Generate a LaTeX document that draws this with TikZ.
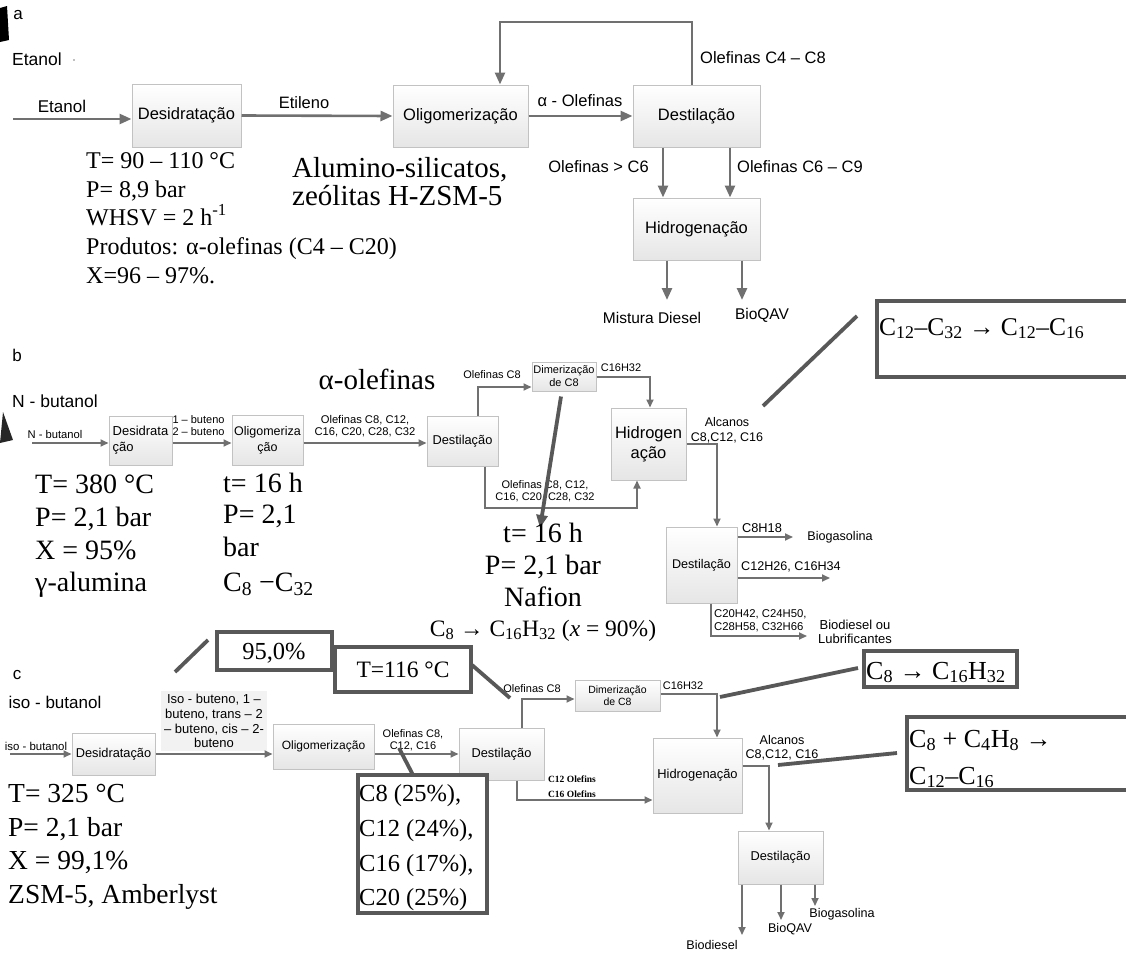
\documentclass[tikz,border=0pt]{standalone}
\usepackage{fontspec}
\setmainfont{Liberation Sans}
\newfontfamily\cam{Liberation Serif}
\newfontfamily\tnr{Liberation Serif}
\usetikzlibrary{arrows.meta}
\definecolor{ag}{HTML}{707070}
\definecolor{cg}{HTML}{585858}
\definecolor{bd}{HTML}{C2C2C2}
\newcommand\fz[2]{\fontsize{#1}{#2}\selectfont}
\newcommand\sbx[1]{\textsubscript{#1}}
\tikzset{
  bx/.style={draw=bd,line width=1pt,top color=white,bottom color=black!10,inner sep=0pt,align=center},
  lb/.style={inner sep=0pt,align=center},
  ar/.style={draw=ag,line width=2.6pt,-{Triangle[length=12pt,width=10pt]}},
  ars/.style={draw=ag,line width=1.7pt,-{Triangle[length=8pt,width=7pt]}},
  cb/.style={draw=cg,line width=3.8pt,fill=white},
  cl/.style={draw=cg,line width=3.8pt},
  dk/.style={draw=cg,line width=3.8pt,-{Triangle[length=13pt,width=11pt]}},
  sr/.style={inner sep=0pt,anchor=base west,align=left},
  sc/.style={inner sep=0pt,anchor=base,align=center},
}
\begin{document}
\begin{tikzpicture}[x=1pt,y=-1pt]
\useasboundingbox (0,0) rectangle (1126,953);
% ================= a =================
\fill[black] (0,8) -- (7,6) -- (9,40) -- (0,42) -- cycle;
\node[lb,font=\fz{17}{20}] (ta) at (18,15) {a};
\node[lb,font=\fz{17.5}{20}] (tet) at (37,59) {Etanol};
\fill[black!50] (74,60) circle (0.8);
\node[bx,font=\fz{16.5}{19},minimum width=109pt,minimum height=63pt] (ades) at (186.5,115.5) {Desidratação};
\node[bx,font=\fz{16.5}{19},minimum width=135pt,minimum height=62pt] (aoli) at (460.5,116) {Oligomerização};
\node[bx,font=\fz{16.5}{19},minimum width=127pt,minimum height=62pt] (adest) at (696.5,116) {Destilação};
\node[bx,font=\fz{16.5}{19},minimum width=127pt,minimum height=62pt] (ahid) at (696.5,229) {Hidrogenação};
\coordinate (ain) at (13,119);
\draw[ar] (ain) -- (ain -| ades.west);
\node[lb,font=\fz{17}{20}] (letanol) at (62,106) {Etanol};
\draw[ar] (ades.east) -- (aoli.west);
\node[lb,font=\fz{16.5}{19}] (letil) at (304,103) {Etileno};
\draw[ar] (aoli.east) -- (adest.west);
\node[lb,font=\fz{16.5}{19}] (lalpha) at (580,101) {α - Olefinas};
\coordinate (lp1) at (692,22);
\coordinate (lp2) at (500,22);
\draw[ar] (adest.north -| lp1) -- (lp1) -- (lp2) -- (aoli.north -| lp2);
\node[lb,anchor=west,font=\fz{16.5}{19}] (lc48) at (700,58) {Olefinas C4 – C8};
\coordinate (dd1) at (663,0);
\coordinate (dd2) at (730,0);
\draw[ar] (adest.south -| dd1) -- (ahid.north -| dd1);
\draw[ar] (adest.south -| dd2) -- (ahid.north -| dd2);
\node[lb,anchor=east,font=\fz{16.5}{19}] (lgt6) at (649,167) {Olefinas > C6};
\node[lb,anchor=west,font=\fz{16.5}{19}] (lc69) at (737,167) {Olefinas C6 – C9};
\coordinate (ao1) at (667,300);
\coordinate (ao2) at (742,300);
\draw[ar] (ahid.south -| ao1) -- (ao1);
\draw[ar] (ahid.south -| ao2) -- (ao2);
\node[lb,font=\fz{15.5}{18}] (lmd) at (652,318) {Mistura Diesel};
\node[lb,font=\fz{15.5}{18}] (lbq) at (762,315) {BioQAV};
% annotations a
\node[sr,font=\cam\fz{24}{28}] (a1) at (86,168) {T= 90 – 110 °C};
\node[sr,font=\cam\fz{24}{28}] (a2) at (86,197) {P= 8,9 bar};
\node[sr,font=\cam\fz{24}{28}] (a3) at (86,225) {WHSV = 2 h\textsuperscript{-1}};
\node[sr,font=\cam\fz{24}{28}] (a4) at (86,254) {Produtos: α-olefinas (C4 – C20)};
\node[sr,font=\cam\fz{24}{28}] (a5) at (86,283) {X=96 – 97\%.};
\node[sr,font=\cam\fz{29}{33}] (a6) at (292,177) {Alumino-silicatos,};
\node[sr,font=\cam\fz{29}{33}] (a7) at (292,205) {zeólitas H-ZSM-5};
% ================= b =================
\node[lb,font=\fz{17}{20}] (tb) at (17,355) {b};
\node[lb,font=\fz{17.5}{20}] (tnb) at (55,401) {N - butanol};
\fill[black!85] (3,412) -- (13,440) -- (0,443) -- cycle;
\node[bx,font=\fz{13}{16},minimum width=63pt,minimum height=49pt,align=left] (bdes) at (140.5,440.5) {Desidrata\\ção};
\node[bx,font=\fz{12.5}{16},minimum width=71pt,minimum height=50pt] (boli) at (267.5,440) {Oligomeriza\\ção};
\node[bx,font=\fz{12.8}{15},minimum width=71pt,minimum height=50pt] (bdest) at (462.5,441) {Destilação};
\node[bx,font=\fz{11}{13},minimum width=64pt,minimum height=29pt] (bdim) at (564,376.5) {Dimerização\\de C8};
\node[bx,font=\fz{16.5}{20},minimum width=75pt,minimum height=72pt] (bhid) at (648.5,444) {Hidrogen\\ação};
\node[bx,font=\fz{12.6}{15},minimum width=71pt,minimum height=76pt] (bdest2) at (701.5,565) {Destilação};
\coordinate (bin) at (32,443);
\draw[ars] (bin) -- (bin -| bdes.west);
\node[lb,font=\fz{11.2}{13}] (lnb) at (55,434) {N - butanol};
\draw[ars] (bdes.east |- bin) -- (boli.west |- bin);
\node[lb,align=left,font=\fz{11}{12}] (lbut) at (198.5,426) {1 – buteno\\2 – buteno};
\draw[ars] (boli.east |- bin) -- (bdest.west |- bin);
\node[lb,font=\fz{11.2}{12}] (lolb) at (365,426) {Olefinas C8, C12,\\C16, C20, C28, C32};
\coordinate (bu) at (478,387);
\draw[ars] (bdest.north -| bu) -- (bu) -- (bdim.west |- bu);
\node[lb,font=\fz{11}{13}] (lbc8) at (492,375) {Olefinas C8};
\coordinate (bc) at (650,377);
\draw[ars] (bdim.east |- bc) -- (bc) -- (bhid.north -| bc);
\node[lb,font=\fz{11}{13}] (lbc16) at (621,368) {C16H32};
\coordinate (bb1) at (485,508);
\coordinate (bb2) at (637,508);
\draw[ars] (bdest.south -| bb1) -- (bb1) -- (bb2) -- (bhid.south -| bb2);
\node[lb,font=\fz{11}{12.5}] (lbol2) at (545,491) {Olefinas C8, C12,\\C16, C20, C28, C32};
\coordinate (ba) at (717,444);
\draw[ars] (bhid.east |- ba) -- (ba) -- (bdest2.north -| ba);
\node[lb,font=\fz{12.5}{15}] (lalc) at (727,430) {Alcanos\\C8,C12, C16};
\coordinate (bo1) at (793,537);
\draw[ars] (bdest2.east |- bo1) -- (bo1);
\node[lb,font=\fz{12.8}{15}] (lc8h) at (762,528) {C8H18};
\node[lb,font=\fz{12.6}{15}] (lbg) at (840,537) {Biogasolina};
\coordinate (bo2) at (830,578);
\draw[ars] (bdest2.east |- bo2) -- (bo2);
\node[lb,anchor=west,font=\fz{12.6}{15}] (lc12h) at (741,567) {C12H26, C16H34};
\coordinate (bo3a) at (711,636);
\coordinate (bo3b) at (807,636);
\draw[ars] (bdest2.south -| bo3a) -- (bo3a) -- (bo3b);
\node[lb,anchor=west,align=left,font=\fz{11.3}{12.5}] (lc20) at (714,621) {C20H42, C24H50,\\C28H58, C32H66};
\node[lb,font=\fz{13}{14}] (lbio) at (855,632) {Biodiesel ou\\Lubrificantes};
% dark arrow
\coordinate (dkend) at (540,528);
\draw[dk] (bdim.south) ++(-3,5) -- (dkend);
% callout b
\draw[cb] (877,301) rectangle (1140,377);
\node[sr,font=\cam\fz{25.5}{29}] (bcall) at (879,335) {C\sbx{12}–C\sbx{32} → C\sbx{12}–C\sbx{16}};
\coordinate (bl1) at (857,316);
\coordinate (bl2) at (763,406);
\draw[cl] (bl1) -- (bl2);
% annotations b
\node[sc,font=\cam\fz{29}{33}] (bal) at (377,389) {α-olefinas};
\node[sr,font=\cam\fz{28}{32}] (b1) at (35,493) {T= 380 °C};
\node[sr,font=\cam\fz{28}{32}] (b2) at (35,526) {P= 2,1 bar};
\node[sr,font=\cam\fz{28}{32}] (b3) at (35,559) {X = 95\%};
\node[sr,font=\cam\fz{28}{32}] (b4) at (35,591) {γ-alumina};
\node[sr,font=\cam\fz{28}{32}] (b5) at (223,492) {t= 16 h};
\node[sr,font=\cam\fz{28}{32}] (b6) at (223,523) {P= 2,1};
\node[sr,font=\cam\fz{28}{32}] (b7) at (223,556) {bar};
\node[sr,font=\cam\fz{28}{32}] (b8) at (223,591) {C\sbx{8} −C\sbx{32}};
\node[sc,font=\cam\fz{28}{32}] (b9) at (543,542) {t= 16 h};
\node[sc,font=\cam\fz{28}{32}] (b10) at (543,574) {P= 2,1 bar};
\node[sc,font=\cam\fz{28}{32}] (b11) at (543,606) {Nafion};
\node[sc,font=\cam\fz{23.5}{27}] (b12) at (543,636) {C\sbx{8} → C\sbx{16}H\sbx{32} (\textit{x} = 90\%)};
% ================= c =================
\node[lb,font=\fz{17}{20}] (tc) at (17,675) {c};
\node[lb,font=\fz{17}{20}] (tib) at (55,702) {iso - butanol};
\node[bx,font=\fz{12.8}{15},minimum width=83pt,minimum height=42pt] (cdes) at (113.5,754) {Desidratação};
\node[bx,font=\fz{12}{15},minimum width=101pt,minimum height=45pt] (coli) at (323.5,746.5) {Oligomerização};
\node[bx,font=\fz{12.8}{15},minimum width=85pt,minimum height=52pt] (cdest) at (501.5,754) {Destilação};
\node[bx,font=\fz{10.5}{12.5},minimum width=85pt,minimum height=31pt] (cdim) at (617.5,695.5) {Dimerização\\de C8};
\node[bx,font=\fz{12.9}{15},minimum width=89pt,minimum height=75pt] (chid) at (697.5,775.5) {Hidrogenação};
\node[bx,font=\fz{12.8}{15},minimum width=85pt,minimum height=53pt] (cdest2) at (780.5,857.5) {Destilação};
\coordinate (cin) at (10,754);
\draw[ars] (cin) -- (cin -| cdes.west);
\node[lb,font=\fz{11.4}{13}] (lib) at (36,746) {iso - butanol};
\node[lb,fill=black!5,inner sep=3pt,font=\fz{13}{14.7}] (lisob) at (214,721) {Iso - buteno, 1 –\\buteno, trans – 2\\– buteno, cis – 2-\\buteno};
\draw[ars] (cdes.east) -- (cdes.east -| coli.west);
\coordinate (cy) at (0,754);
\draw[ars] (coli.east |- cy) -- (cdest.west |- cy);
\node[lb,font=\fz{11}{12.5}] (lolc) at (413,740) {Olefinas C8,\\C12, C16};
\coordinate (cu) at (522,699);
\draw[ars] (cdest.north -| cu) -- (cu) -- (cdim.west |- cu);
\node[lb,font=\fz{11}{13}] (lcc8) at (532,689) {Olefinas C8};
\coordinate (cc) at (717,694);
\draw[ars] (cdim.east |- cc) -- (cc) -- (chid.north -| cc);
\node[lb,font=\fz{11}{13}] (lcc16) at (683,686) {C16H32};
\coordinate (cb1) at (517,800);
\draw[ars] (cdest.south -| cb1) -- (cb1) -- (chid.west |- cb1);
\node[lb,font=\tnr\bfseries\fz{9.5}{11}] (lc12o) at (572,779) {C12 Olefins};
\node[lb,font=\tnr\bfseries\fz{9.5}{11}] (lc16o) at (572,794) {C16 Olefins};
\coordinate (ca) at (769,766);
\draw[ars] (chid.east |- ca) -- (ca) -- (cdest2.north -| ca);
\node[lb,font=\fz{12.6}{14}] (lalcc) at (782,748) {Alcanos\\C8,C12, C16};
\coordinate (co1) at (742,935);
\coordinate (co2) at (781,920);
\coordinate (co3) at (815,906);
\draw[ars] (cdest2.south -| co1) -- (co1);
\draw[ars] (cdest2.south -| co2) -- (co2);
\draw[ars] (cdest2.south -| co3) -- (co3);
\node[lb,font=\fz{12.6}{15}] (lbd) at (712,945) {Biodiesel};
\node[lb,font=\fz{12.6}{15}] (lbqc) at (790,929) {BioQAV};
\node[lb,font=\fz{12.6}{15}] (lbgc) at (842,914) {Biogasolina};
% annotations c
\node[sr,font=\cam\fz{27.5}{31}] (c1) at (8,802) {T= 325 °C};
\node[sr,font=\cam\fz{27.5}{31}] (c2) at (8,836) {P= 2,1 bar};
\node[sr,font=\cam\fz{27.5}{31}] (c3) at (8,869) {X = 99,1\%};
\node[sr,font=\cam\fz{27.5}{31}] (c4) at (8,903) {ZSM-5, Amberlyst};
% callouts c
\draw[cb] (217,632) rectangle (332,670);
\node[sc,font=\cam\fz{24.5}{28}] (c95) at (274,659) {95,0\%};
\coordinate (cl1a) at (175,672);
\coordinate (cl1b) at (208,640);
\draw[cl] (cl1a) -- (cl1b);
\draw[cb] (335,647) rectangle (471,692);
\node[sc,font=\cam\fz{23.5}{27}] (c116) at (403,677) {T=116 °C};
\coordinate (cl2a) at (472,665);
\coordinate (cl2b) at (510,698);
\draw[cl] (cl2a) -- (cl2b);
\draw[cb] (358,775) rectangle (487,913);
\node[sr,font=\cam\fz{24.5}{28}] (cp1) at (359,801) {C8 (25\%),};
\node[sr,font=\cam\fz{24.5}{28}] (cp2) at (359,836) {C12 (24\%),};
\node[sr,font=\cam\fz{24.5}{28}] (cp3) at (359,871) {C16 (17\%),};
\node[sr,font=\cam\fz{24.5}{28}] (cp4) at (359,905) {C20 (25\%)};
\coordinate (cl3a) at (413,775);
\coordinate (cl3b) at (399,748);
\draw[cl] (cl3a) -- (cl3b);
\draw[cb] (864,651) rectangle (1017,687);
\node[sr,font=\cam\fz{26}{30}] (cc8) at (866,679) {C\sbx{8} → C\sbx{16}H\sbx{32}};
\coordinate (cl4a) at (858,668);
\coordinate (cl4b) at (720,697);
\draw[cl] (cl4a) -- (cl4b);
\draw[cb] (907,717) rectangle (1140,790);
\node[sr,font=\cam\fz{26}{30}] (cc4a) at (909,747) {C\sbx{8} + C\sbx{4}H\sbx{8} →};
\node[sr,font=\cam\fz{26}{30}] (cc4b) at (909,784) {C\sbx{12}–C\sbx{16}};
\coordinate (cl5a) at (897,753);
\coordinate (cl5b) at (778,765);
\draw[cl] (cl5a) -- (cl5b);
\end{tikzpicture}
\end{document}
